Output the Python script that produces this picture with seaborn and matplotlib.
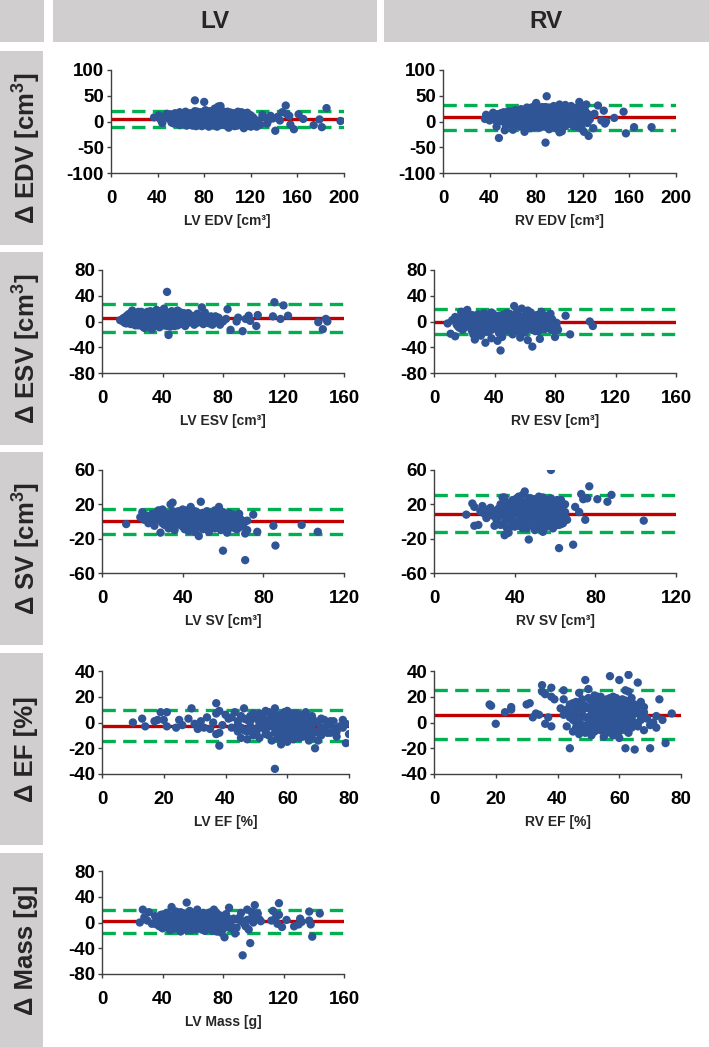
import matplotlib
matplotlib.use('Agg')
import matplotlib.pyplot as plt
import seaborn as sns
import pandas as pd
from matplotlib.patches import Rectangle

sns.set_theme(style='ticks')
plt.rcParams['font.family'] = ['Liberation Sans', 'DejaVu Sans']
plt.rcParams['font.weight'] = 'bold'
plt.rcParams['mathtext.fontset'] = 'custom'
plt.rcParams['mathtext.bf'] = 'Liberation Sans:bold'
plt.rcParams['mathtext.rm'] = 'Liberation Sans:bold'

# ---------------- data ----------------
col_titles = ['LV', 'RV']
row_titles = ['Δ EDV [cm$^{\\mathbf{3}}$]', 'Δ ESV [cm$^{\\mathbf{3}}$]', 'Δ SV [cm$^{\\mathbf{3}}$]',
              'Δ EF [%]', 'Δ Mass [g]']

lv_edv = [(37,8),(41,12),(43,2),(44,-3),(46,10),(48,15),(50,5),(52,-2),(54,8),(55,16),(57,0),(58,12),(59,18),(60,-5),
          (61,6),(62,14),(63,2),(64,19),(65,-8),(66,9),(67,4),(68,16),(69,-3),(70,11),(71,1),(72,41),(72,20),(73,-9),
          (74,7),(75,14),(76,-1),(77,18),(78,5),(79,-6),(80,38),(80,10),(81,22),(82,0),(83,13),(84,-10),(85,6),(86,17),
          (87,-4),(88,9),(89,25),(90,2),(91,14),(92,29),(93,-7),(94,30),(95,11),(96,4),(97,19),(98,-2),(99,8),(100,15),
          (101,-12),(102,5),(103,17),(104,-5),(105,10),(106,1),(107,14),(108,-8),(109,7),(110,16),(111,-3),(112,3),
          (113,12),(114,-13),(115,8),(116,15),(117,-6),(118,2),(119,10),(120,-10),(121,5),(122,-4),(124,-8),(128,-6),
          (130,13),(132,8),(134,-4),(135,2),(137,11),(139,6),(141,-18),(143,9),(145,2),(147,18),(150,31),(151,14),
          (153,11),(154,-6),(157,-15),(161,14),(165,5),(174,-7),(179,4),(181,-11),(185,26),(197,1),
          (53,12),(56,4),(60,9),(62,-2),(64,7),(66,13),(68,-6),(70,3),(72,8),(74,-4),(76,10),(78,15),(80,-2),(82,6),
          (84,12),(86,1),(88,-8),(90,12),(92,5),(94,-3),(96,16),(98,7),(100,0),(102,11),(104,3),(106,-9),(108,12),
          (110,6),(112,-7),(114,9),(116,0),(118,13),(120,7),(57,7),(63,11),(69,5),(75,1),(81,-5),(87,11),(93,8),
          (99,-8),(105,3),(111,11),(117,4),(123,0),(85,20),(91,-10),(79,13),(73,16),(67,-1),(61,16),(97,13),(103,-3),
          (109,19),(115,-1),(71,-6),(77,3),(83,2),(89,-1),(95,18),(101,9),(107,-2),(113,16)]
lv_edv_core = [(51,14),(54,-4),(56,10),(58,3),(59,-7),(61,12),(63,-5),(64,15),(65,4),(67,10),(68,0),(69,15),(70,-8),
               (71,13),(72,-2),(73,6),(74,19),(75,-7),(76,5),(77,12),(78,-9),(79,2),(80,17),(81,7),(82,-7),(83,19),
               (84,4),(85,-3),(86,10),(87,16),(88,3),(89,12),(90,-6),(91,6),(92,17),(93,1),(94,12),(95,-6),(96,9),
               (97,-5),(98,14),(99,3),(100,19),(101,-4),(102,17),(103,7),(104,12),(105,-7),(106,16),(107,6),(108,1),
               (109,-5),(110,10),(111,4),(112,18),(113,-9),(114,1),(115,13),(116,-9),(117,17),(118,-3),(119,4),
               (120,12),(121,-2),(122,8),(125,-10),(126,2)]

rv_edv = [(36,5),(37,13),(39,8),(40,2),(41,10),(43,17),(44,4),(45,12),(46,-10),(47,7),(48,-32),(49,15),(50,1),(51,9),
          (52,18),(53,-17),(54,5),(55,12),(56,-3),(57,8),(58,20),(59,3),(60,-16),(61,14),(62,22),(63,6),(64,-5),(65,16),
          (66,1),(67,24),(68,10),(69,-8),(70,-20),(70,18),(71,5),(72,27),(73,-2),(74,13),(75,-13),(75,21),(76,7),
          (77,-7),(78,16),(79,30),(80,36),(80,2),(81,11),(82,-10),(83,25),(84,6),(85,19),(86,-4),(87,12),(88,-41),
          (88,28),(89,49),(89,3),(90,17),(91,-15),(92,9),(93,24),(94,-6),(95,30),(96,14),(97,1),(98,21),(99,-9),
          (100,33),(100,-21),(101,8),(102,-19),(103,18),(104,4),(105,32),(106,12),(107,-3),(108,26),(109,9),(110,30),
          (111,-6),(112,16),(113,3),(114,22),(115,-10),(116,11),(117,38),(118,5),(119,-14),(120,19),(121,-20),(122,8),
          (123,33),(124,-3),(125,-28),(126,12),(129,-13),(130,15),(133,31),(136,2),(138,21),(139,-4),(140,0),(147,7),
          (155,19),(157,-23),(164,-11),(179,-11),
          (45,3),(50,10),(55,-1),(60,7),(65,4),(68,20),(72,0),(74,9),(76,23),(78,-3),(82,15),(84,-1),(86,25),(88,10),
          (90,0),(92,20),(94,13),(96,-8),(98,4),(100,12),(102,27),(104,-5),(106,19),(108,2),(110,14),(112,-9),(114,7),
          (116,27),(118,17),(120,3),(66,9),(70,12),(80,20),(85,-8),(90,26),(95,6),(105,22),(110,-2),(115,15),(120,25),
          (63,-3),(77,28),(83,-12),(97,-13),(103,10)]
rv_edv_core = [(42,5),(44,11),(46,14),(48,3),(50,16),(52,7),(54,-8),(56,20),(58,-5),(60,13),(62,2),(64,18),(66,-10),
               (67,6),(69,22),(71,-4),(72,14),(73,20),(74,-9),(75,4),(77,17),(78,8),(79,-11),(80,12),(81,24),(82,4),
               (83,-6),(84,16),(85,28),(86,9),(87,-10),(88,19),(89,-5),(90,8),(91,27),(92,-3),(93,14),(94,4),(95,21),
               (96,-2),(97,26),(98,11),(99,17),(100,-6),(101,22),(102,1),(103,28),(104,15),(105,-9),(106,6),(107,25),
               (108,-4),(109,17),(110,5),(111,26),(112,0),(113,12),(114,-4),(115,24),(116,4),(117,18),(118,-8),
               (119,27),(120,10),(121,0),(122,21),(124,15),(126,4)]

lv_esv = [(12,2),(14,5),(15,-2),(16,8),(17,1),(18,12),(19,-4),(20,17),(21,6),(22,-1),(23,10),(24,3),(25,14),(26,-5),
          (27,7),(28,0),(29,12),(30,-8),(31,4),(32,16),(33,-12),(34,9),(35,2),(36,18),(37,-6),(38,11),(39,1),(40,6),
          (41,20),(42,-3),(43,46),(43,13),(44,-21),(45,4),(46,16),(47,-2),(48,9),(49,0),(50,17),(51,-4),(52,7),(53,2),
          (54,13),(55,-7),(56,5),(57,13),(58,-1),(59,9),(60,-2),(62,3),(64,8),(66,22),(67,-4),(68,14),(70,2),(72,8),
          (73,-5),(75,8),(76,1),(78,-5),(80,0),(82,4),(83,19),(85,-13),(89,0),(90,6),(93,-15),(95,4),(97,9),(98,1),
          (102,-7),(103,10),(113,8),(114,30),(118,4),(120,25),(123,9),(143,-1),(146,-12),(148,4),(149,0),
          (15,6),(18,3),(20,-3),(22,11),(24,-6),(26,15),(28,6),(30,10),(32,-2),(34,14),(36,5),(38,-9),(40,13),(42,3),
          (44,9),(46,-5),(48,15),(50,4),(52,-1),(54,10),(28,-10),(33,5),(37,12),(41,-6),(45,-8),(49,11),(35,-4),
          (25,9),(65,5),(69,-1),(63,12)]
lv_esv_core = [(14,0),(16,-3),(17,10),(19,6),(20,0),(21,13),(22,-6),(23,4),(24,15),(25,-2),(26,6),(27,-8),(27,13),
               (29,3),(29,-4),(30,15),(31,-3),(32,8),(33,13),(34,-6),(35,11),(36,-2),(37,4),(38,16),(39,-5),(40,-1),
               (41,10),(42,15),(43,-7),(44,1),(45,14),(46,8),(47,3),(48,-7),(49,6),(50,-6),(51,12),(52,14),(53,-3),
               (55,9),(56,-3),(57,2),(58,10),(60,5),(61,-5),(63,-2),(68,4),(71,-3),(74,3),(77,6)]

rv_esv = [(9,-3),(11,-19),(12,2),(14,-23),(14,7),(15,-5),(16,4),(17,-10),(18,15),(19,1),(20,12),(21,-8),(22,18),
          (23,-3),(24,6),(25,-14),(26,9),(27,-28),(27,0),(28,-6),(29,11),(30,-12),(31,3),(32,-1),(33,13),(34,-33),
          (34,-9),(35,5),(36,-16),(37,8),(38,-26),(38,-4),(39,12),(40,0),(41,-11),(42,-30),(42,7),(43,-18),(44,-45),
          (44,2),(45,10),(46,-7),(47,4),(48,-14),(49,11),(50,-2),(51,6),(52,-10),(53,24),(53,3),(54,-5),(55,13),
          (56,-16),(57,-25),(57,7),(58,20),(59,-3),(60,9),(61,-12),(62,-29),(62,17),(63,2),(64,-8),(65,-39),(66,5),
          (67,-15),(68,10),(69,-4),(70,-27),(70,-1),(71,15),(72,-10),(73,3),(74,-6),(75,5),(77,12),(77,-12),(79,-3),
          (80,-24),(81,-8),(82,-13),(87,9),(90,-20),(103,0),(105,-7),
          (18,-6),(22,3),(25,10),(28,-15),(30,6),(32,-18),(34,10),(36,1),(38,14),(40,-9),(43,9),(46,-2),(48,13),
          (50,6),(52,-20),(54,12),(58,-8),(60,-17),(64,14),(66,-6),(26,-20),(31,-22),(45,-24),(55,-12)]
rv_esv_core = [(16,-8),(17,6),(19,-13),(20,-2),(21,5),(23,10),(24,-9),(25,2),(26,-4),(27,7),(28,-11),(29,4),(30,-1),
               (31,9),(32,-8),(33,1),(34,-14),(35,-2),(36,10),(37,-7),(38,-13),(39,3),(40,-4),(41,7),(42,-8),(43,1),
               (44,-11),(45,-3),(46,8),(47,-13),(48,2),(49,-6),(50,12),(51,-12),(52,-3),(53,9),(54,-15),(55,4),
               (56,-8),(57,0),(58,-14),(59,6),(60,-6),(61,2),(62,-9),(63,11),(64,-3),(65,-13),(66,1),(67,7),(68,-9),
               (69,-15),(70,6),(71,-6),(72,2),(73,-12),(74,9),(75,-4),(76,-10),(78,4),(79,-14),(80,-7),(81,-2)]

lv_sv = [(12,-3),(19,5),(20,11),(21,2),(22,7),(23,-2),(24,4),(25,9),(26,-5),(27,10),(28,13),(29,-13),(29,1),(30,14),
         (31,-4),(32,6),(33,-8),(34,20),(35,22),(35,3),(36,-10),(37,11),(38,-2),(39,7),(40,14),(40,-6),(41,1),(42,9),
         (43,-11),(44,4),(44,17),(45,-3),(46,12),(47,-8),(48,-17),(48,6),(49,23),(49,0),(50,10),(51,-5),(52,3),
         (53,-12),(54,8),(55,-2),(56,13),(57,-7),(58,17),(58,2),(59,-10),(60,-34),(60,6),(61,-3),(62,-13),(63,4),
         (64,-6),(65,8),(66,-1),(67,-9),(68,5),(69,2),(70,-5),(71,-45),(71,-14),(72,-10),(75,8),(77,-12),(85,-5),
         (86,-28),(99,-4),(107,-12),
         (30,5),(32,-2),(34,9),(36,4),(38,12),(41,-9),(43,8),(45,5),(47,11),(50,-9),(52,12),(54,-6),(56,1),(58,-4),
         (60,11),(62,7),(64,1),(66,7),(68,-4),(26,3),(33,0),(39,-4),(46,-12),(53,9),(57,5),(63,-8),(42,-1),(37,2)]
lv_sv_core = [(28,4),(29,8),(30,-2),(31,10),(32,1),(33,5),(34,-3),(35,12),(36,-6),(37,6),(38,0),(39,10),(40,3),(41,-4),
              (42,13),(43,2),(44,-7),(45,9),(46,-1),(47,4),(48,-4),(49,9),(50,2),(51,7),(52,-7),(53,4),(54,1),(55,11),
              (56,-8),(57,9),(58,-2),(59,5),(60,-7),(61,1),(62,-2),(63,10),(64,4),(65,-3),(66,-8),(67,3),(68,9),
              (69,-6),(70,-2),(71,0),(72,1)]

rv_sv = [(16,8),(19,21),(20,17),(20,-5),(22,-4),(23,12),(24,18),(25,9),(26,4),(27,14),(28,16),(29,7),(30,-5),(30,12),
         (31,2),(32,15),(33,8),(34,28),(34,-3),(35,28),(35,-16),(36,11),(36,-14),(37,20),(37,-13),(38,4),(39,15),
         (40,24),(40,-6),(41,9),(42,29),(42,1),(43,17),(44,-8),(44,31),(45,35),(45,10),(46,3),(46,22),(47,-21),
         (47,13),(48,-4),(48,27),(49,8),(50,18),(50,-10),(51,5),(52,29),(52,14),(53,-2),(54,-12),(54,21),(55,9),
         (56,25),(56,-6),(57,16),(58,60),(58,27),(58,2),(59,12),(60,20),(60,-5),(61,8),(62,-31),(62,15),(63,25),
         (63,-3),(64,10),(65,5),(69,-27),(70,17),(72,11),(73,32),(74,26),(75,2),(76,27),(77,41),(81,26),(86,23),
         (88,31),(104,1),
         (33,20),(35,5),(38,-6),(39,25),(41,-2),(43,6),(44,14),(46,-8),(48,20),(49,-3),(50,26),(51,11),(53,24),
         (55,-1),(57,6),(59,-8),(61,25),(63,3),(40,13),(42,20),(47,6),(52,0),(54,4),(56,12),(45,-2),(38,10),(36,2),
         (31,-3),(60,10),(65,20)]
rv_sv_core = [(32,6),(33,-4),(34,12),(35,19),(36,-7),(37,8),(38,22),(39,1),(40,18),(41,27),(42,-5),(42,11),(43,24),
              (44,3),(45,20),(46,14),(47,27),(48,11),(49,16),(50,3),(51,22),(52,-6),(53,12),(54,28),(55,16),(56,4),
              (57,22),(58,-4),(59,18),(60,2),(61,15),(62,-4),(63,17),(64,-2),(65,11),(66,2),(41,16),(44,22),(47,-3),
              (50,8),(53,6),(56,19),(59,24),(39,-2),(36,18)]

lv_ef = [(10,0),(13,3),(14,-3),(17,1),(18,2),(19,8),(20,2),(21,8),(21,-3),(24,-4),(25,2),(26,-2),(28,3),(29,11),
         (30,-1),(31,-5),(32,1),(33,-4),(34,4),(35,-5),(36,0),(37,15),(37,7),(37,-9),(38,-18),(38,9),(38,-8),(39,-2),
         (40,6),(41,3),(42,-4),(43,8),(44,1),(45,-12),(45,5),(46,11),(46,-6),(47,-13),(47,2),(48,-3),(49,7),(50,-8),
         (50,3),(51,-12),(51,-1),(52,5),(53,-6),(53,2),(54,-10),(54,8),(55,-3),(55,4),(56,-36),(56,11),(56,-8),
         (57,1),(57,-12),(58,-17),(58,6),(58,-4),(59,-10),(59,2),(60,9),(60,-6),(61,-2),(61,5),(62,-13),(62,0),
         (63,7),(63,-8),(64,-3),(64,3),(65,-11),(65,6),(66,-5),(66,1),(67,-9),(68,5),(68,-2),(69,-20),(69,-7),
         (70,-14),(70,0),(71,-4),(72,2),(73,-8),(74,1),(75,-5),(76,-11),(77,-3),(78,2),(79,-16),(80,-9),
         (52,-4),(54,0),(56,3),(57,-5),(59,-2),(60,1),(61,-9),(62,4),(63,-4),(64,-12),(65,-1),(66,8),(67,3),
         (55,-14),(58,-11),(60,-15),(53,9),(49,-5),(48,5),(44,-7),(42,4),(71,-10),(72,-6),(74,-8),(67,-14),(51,7),
         (59,-13)]
lv_ef_core = [(44,-2),(45,-4),(46,3),(47,-7),(48,1),(49,-10),(50,6),(51,-4),(52,0),(53,-9),(54,-3),(55,7),(56,-2),
              (56,6),(57,-8),(58,-1),(58,3),(59,-6),(59,8),(60,-11),(60,4),(61,-4),(61,0),(62,-8),(62,7),(63,1),
              (63,-11),(64,-6),(64,6),(65,-8),(65,2),(66,-2),(66,-10),(67,0),(67,-6),(68,-12),(69,1),(70,-8),(71,3),
              (73,-2),(75,1),(76,-7),(78,-4),(79,-1)]

rv_ef = [(18,14),(18.5,13),(20,-1),(23,8),(25,12),(25,10),(30,14),(31,15),(32,4),(33,7),(34,6),(35,29),(35,24),
         (36,22),(36,-1),(37,4),(38,-3),(38,27),(38,20),(39,18),(41,11),(42,25),(42,18),(42,6),(43,-3),(43,10),
         (44,-20),(44,14),(45,2),(45,-7),(46,16),(46,5),(47,-9),(47,23),(48,9),(48,-2),(49,33),(49,13),(50,26),
         (50,-5),(50,4),(51,17),(51,-10),(52,8),(52,21),(53,0),(53,12),(54,-6),(54,16),(55,4),(55,-11),(56,10),
         (56,18),(57,36),(57,-2),(57,7),(58,-10),(58,14),(59,3),(59,19),(60,33),(60,-12),(60,8),(61,-5),(61,12),
         (62,25),(62,-20),(62,2),(63,24),(63,37),(63,-8),(64,9),(64,4),(65,-21),(65,14),(66,31),(66,-3),(67,16),
         (67,5),(68,12),(68,-6),(69,3),(70,-20),(70,-2),(71,0),(72,-4),(72,5),(73,18),(74,2),(75,-16),(77,7),
         (46,0),(48,18),(49,-8),(51,6),(52,-3),(53,20),(54,3),(55,9),(56,-5),(57,14),(58,1),(59,-4),(60,16),(61,4),
         (62,10),(63,-1),(64,14),(65,0),(50,11),(52,14),(54,10),(56,2),(58,6),(60,-2),(47,12),(45,8),(66,8),(44,4),
         (55,17),(59,9)]
rv_ef_core = [(44,9),(45,15),(46,-4),(47,3),(48,13),(49,4),(50,-1),(50,19),(51,0),(51,12),(52,-7),(52,4),(53,16),
              (53,-5),(54,7),(54,20),(55,-1),(55,13),(56,-8),(56,14),(57,0),(57,19),(58,10),(58,-6),(59,14),(60,-7),
              (60,4),(61,18),(61,-1),(62,6),(62,-6),(63,12),(63,5),(64,-4),(64,19),(65,7),(66,13),(66,-1),(67,2),
              (68,8),(58,20),(62,17),(48,-5),(46,10)]

lv_mass = [(25,0),(27,20),(28,8),(30,3),(31,16),(33,-2),(35,10),(36,4),(38,-6),(39,12),(40,-5),(41,7),(42,1),(43,15),
           (44,-9),(45,-12),(45,5),(46,24),(47,11),(48,-3),(49,17),(50,2),(51,-10),(52,-14),(52,9),(53,-4),(54,14),
           (55,0),(56,31),(56,-8),(57,6),(58,18),(59,-12),(60,3),(61,11),(62,-6),(63,20),(64,-1),(65,8),(66,-11),
           (67,15),(68,2),(69,-7),(70,12),(71,-3),(72,6),(73,-13),(74,20),(75,1),(76,-14),(77,9),(78,-5),(79,-16),
           (80,4),(81,-23),(82,13),(84,23),(84,-8),(86,-10),(88,-17),(90,5),(92,15),(92,2),(93,-51),(95,-6),(96,20),
           (97,-11),(98,-32),(99,16),(100,0),(101,27),(102,10),(104,5),(112,3),(113,18),(115,8),(116,-2),(117,12),
           (117,30),(119,-7),(122,4),(127,-6),(130,-3),(131,6),(132,1),(137,17),(137,3),(138,-3),(139,-22),(144,14),
           (40,10),(42,-4),(44,6),(46,-6),(48,10),(50,-8),(52,16),(54,4),(56,-2),(58,8),(60,-9),(62,14),(64,7),
           (66,4),(68,-10),(70,0),(72,16),(74,-6),(76,7),(78,11),(80,-6),(47,-1),(53,8),(59,5),(65,-5),(71,9),
           (61,-1),(55,12)]
lv_mass_core = [(36,-3),(37,8),(39,2),(40,-9),(41,13),(42,-7),(43,4),(44,11),(45,-2),(46,8),(47,-10),(48,3),(49,-6),
                (50,12),(51,5),(52,-3),(53,14),(54,-9),(55,6),(56,-12),(57,10),(58,-3),(59,14),(60,-5),(61,5),
                (62,-11),(63,9),(64,-8),(65,13),(66,-2),(67,6),(68,-13),(69,10),(70,-5),(71,15),(72,-9),(73,3),
                (74,9),(75,-7),(76,14),(77,-3),(78,3),(79,8),(80,-10),(81,2),(82,-4),(83,7),(85,-3),(87,6),(89,-8),
                (91,8),(94,-2),(96,4),(99,7),(103,14),(105,2)]

# mean difference and limits of agreement (LV, RV) per row
bias  = [(5, 8), (5, -1), (1, 9), (-2.5, 5.7), (2, None)]
upper = [(21, 32), (27, 19), (15, 31), (9.5, 25), (20, None)]
lower = [(-10, -16), (-17, -20), (-14, -12), (-14, -13), (-17, None)]

x_labels = [('LV EDV [cm³]', 'RV EDV [cm³]'), ('LV ESV [cm³]', 'RV ESV [cm³]'),
            ('LV SV [cm³]', 'RV SV [cm³]'), ('LV EF [%]', 'RV EF [%]'), ('LV Mass [g]', None)]
x_ticks = [[0, 40, 80, 120, 160, 200], [0, 40, 80, 120, 160], [0, 40, 80, 120],
           [0, 20, 40, 60, 80], [0, 40, 80, 120, 160]]
y_ticks = [[-100, -50, 0, 50, 100], [-80, -40, 0, 40, 80], [-60, -20, 20, 60],
           [-40, -20, 0, 20, 40], [-80, -40, 0, 40, 80]]
points = [(lv_edv + lv_edv_core, rv_edv + rv_edv_core),
          (lv_esv + lv_esv_core, rv_esv + rv_esv_core),
          (lv_sv + lv_sv_core, rv_sv + rv_sv_core),
          (lv_ef + lv_ef_core, rv_ef + rv_ef_core),
          (lv_mass + lv_mass_core, None)]

# ---------------- layout (pixels) ----------------
W, H = 709, 1047
GREY = '#D0CECE'
BLUE = '#2F5597'
RED = '#C00000'
GREEN = '#00B050'
AX = '#404040'

fig = plt.figure(figsize=(W / 100, H / 100), dpi=100)


def box(x0, y0, x1, y1):
    fig.patches.append(Rectangle((x0 / W, 1 - y1 / H), (x1 - x0) / W, (y1 - y0) / H,
                                 transform=fig.transFigure, facecolor=GREY, edgecolor='none', zorder=0))


# header boxes
box(0, 0, 44, 42)
box(53, 0, 377, 42)
box(384, 0, 709, 42)
fig.text(215 / W, 1 - 21 / H, col_titles[0], ha='center', va='center', fontsize=17.5, fontweight='bold')
fig.text(546 / W, 1 - 21 / H, col_titles[1], ha='center', va='center', fontsize=17.5, fontweight='bold')

row_boxes = [(51, 245), (252, 445), (452, 645), (653, 845), (853, 1047)]
for (t, b), lab in zip(row_boxes, row_titles):
    box(0, t, 43, b)
    fig.text(26 / W, 1 - (t + b) / 2 / H, lab, rotation=90, ha='center', va='center',
             fontsize=18.5, fontweight='bold')

ax_tops = [70, 270, 470, 671, 871]
ax_h = 103
lv_lr = [(111, 344), (102, 344), (102, 344), (102, 349), (102, 344)]
rv_lr = [(443, 676), (434, 676), (434, 676), (434, 681), None]

for r in range(5):
    for c in range(2):
        pts = points[r][c]
        if pts is None:
            continue
        l, rr = (lv_lr if c == 0 else rv_lr)[r]
        top = ax_tops[r]
        ax = fig.add_axes([l / W, 1 - (top + ax_h) / H, (rr - l) / W, ax_h / H])
        df = pd.DataFrame(pts, columns=['mean', 'diff'])
        ax.axhline(bias[r][c], color=RED, lw=2.4, zorder=1)
        for v in (upper[r][c], lower[r][c]):
            ax.axhline(v, color=GREEN, lw=2.4, dashes=(4.0, 2.2), zorder=1)
        sns.scatterplot(data=df, x='mean', y='diff', ax=ax, color=BLUE, s=36,
                        edgecolor='none', linewidth=0, zorder=3, legend=False)
        xt = x_ticks[r]
        yt = y_ticks[r]
        ax.set_xlim(xt[0], xt[-1])
        ax.set_ylim(yt[0], yt[-1])
        ax.set_xticks(xt)
        ax.set_yticks(yt)
        ax.set_xticklabels([str(v) for v in xt], fontsize=13.5, fontweight='bold')
        ax.set_yticklabels([str(v) for v in yt], fontsize=13.5, fontweight='bold')
        ax.set_xlabel(x_labels[r][c], fontsize=10, fontweight='bold', labelpad=5)
        ax.set_ylabel('')
        for s in ('top', 'right'):
            ax.spines[s].set_visible(False)
        for s in ('left', 'bottom'):
            ax.spines[s].set_color(AX)
            ax.spines[s].set_linewidth(1.0)
        ax.tick_params(axis='x', direction='out', length=3, width=1, color=AX, pad=9, colors='black')
        ax.tick_params(axis='y', direction='out', length=3, width=1, color=AX, pad=2, colors='black')
        ax.patch.set_alpha(0)

fig.savefig('out.png', dpi=100)
